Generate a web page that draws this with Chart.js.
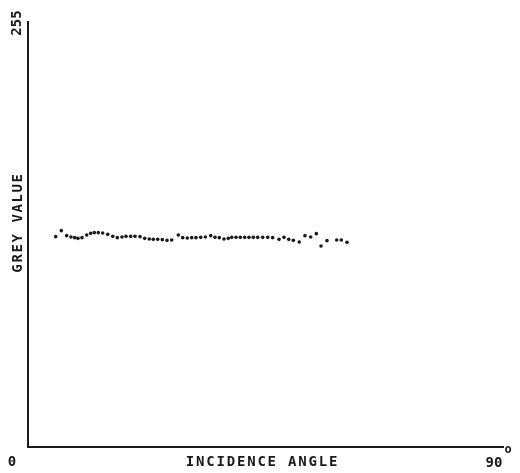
<!DOCTYPE html>
<html>
<head>
<meta charset="utf-8">
<script src="https://cdn.jsdelivr.net/npm/chart.js@4.4.1/dist/chart.umd.min.js"></script>
<style>
  html, body { margin: 0; padding: 0; background: #fff; }
  #wrap { width: 520px; height: 473px; }
</style>
</head>
<body>
<div id="wrap"><canvas id="chart"></canvas></div>
<script>
// incidence angle (degrees) and grey value
var angles = [5.25, 6.31, 7.33, 8.15, 8.85, 9.47, 10.23, 11.12, 11.88, 12.56,
  13.32, 14.15, 15.10, 16.05, 16.92, 17.81, 18.57, 19.46, 20.27, 21.22,
  22.11, 22.98, 23.74, 24.57, 25.45, 26.34, 27.23, 28.48, 29.31, 30.18,
  31.02, 31.83, 32.72, 33.6, 34.62, 35.43, 36.25, 37.14, 37.95, 38.60,
  39.41, 40.22, 41.06, 41.87, 42.69, 43.52, 44.47, 45.42, 46.36, 47.56,
  48.51, 49.40, 50.27, 51.40, 52.48, 53.56, 54.63, 55.52, 56.65, 58.49,
  59.36, 60.44];
var greyValues = [126.2, 129.8, 126.8, 126.0, 125.6, 125.2, 125.6, 127.2, 128.2, 128.6,
  128.6, 128.4, 127.6, 126.4, 125.6, 126.0, 126.4, 126.4, 126.4, 126.2,
  125.2, 124.8, 124.6, 124.6, 124.4, 124.0, 124.2, 127.2, 125.6, 125.4,
  125.6, 125.6, 125.8, 126.0, 126.8, 125.8, 125.6, 124.8, 125.2, 125.8,
  125.8, 125.8, 125.8, 125.8, 125.8, 125.8, 125.8, 125.8, 125.6, 124.6,
  125.8, 124.6, 124.0, 123.0, 126.8, 126.0, 128.0, 120.6, 123.8, 124.2,
  124.2, 122.8];
var xRange = [0, 90];
var yRange = [0, 255];
var xTitle = "INCIDENCE ANGLE";
var yTitle = "GREY VALUE";

var points = angles.map(function (a, i) { return { x: a, y: greyValues[i] }; });

var labelFont = "bold 14px 'DejaVu Sans Mono', monospace";

var axisLabels = {
  id: 'axisLabels',
  afterDraw: function (chart) {
    var ctx = chart.ctx;
    var xs = chart.scales.x, ys = chart.scales.y;
    var x0 = xs.getPixelForValue(xRange[0]);
    var x1 = xs.getPixelForValue(xRange[1]);
    var y0 = ys.getPixelForValue(yRange[0]);
    var y1 = ys.getPixelForValue(yRange[1]);
    ctx.save();
    ctx.fillStyle = '#1a1a1a';
    ctx.font = labelFont;
    ctx.textAlign = 'center';
    ctx.textBaseline = 'middle';

    // bottom labels
    ctx.fillText(String(xRange[0]), x0 - 16, y0 + 15);
    ctx.letterSpacing = '1.8px';
    ctx.fillText(xTitle, (x0 + x1) / 2 - 3, y0 + 15);
    ctx.letterSpacing = '0px';
    ctx.fillText(String(xRange[1]), x1 - 9, y0 + 16);
    ctx.font = "bold 12px 'DejaVu Sans Mono', monospace";
    ctx.fillText('o', x1 + 5, y0 + 3);

    // left labels, rotated
    ctx.font = labelFont;
    ctx.save();
    ctx.translate(x0 - 11, y1 + 1);
    ctx.rotate(-Math.PI / 2);
    ctx.fillText(String(yRange[1]), 0, 0);
    ctx.restore();

    ctx.save();
    ctx.translate(x0 - 10, (y0 + y1) / 2 - 12);
    ctx.rotate(-Math.PI / 2);
    ctx.letterSpacing = '1.6px';
    ctx.fillText(yTitle, 0, 0);
    ctx.restore();

    ctx.restore();
  }
};

new Chart(document.getElementById('chart'), {
  type: 'scatter',
  data: {
    datasets: [{
      data: points,
      backgroundColor: '#1a1a1a',
      borderColor: '#1a1a1a',
      pointRadius: 1.8,
      pointBorderWidth: 0
    }]
  },
  options: {
    responsive: true,
    maintainAspectRatio: false,
    animation: false,
    layout: { padding: { left: 28, right: 17, top: 22, bottom: 26 } },
    plugins: {
      legend: { display: false },
      tooltip: { enabled: false }
    },
    scales: {
      x: {
        type: 'linear',
        min: xRange[0], max: xRange[1],
        grid: { display: false, drawTicks: false },
        ticks: { display: false },
        border: { display: true, color: '#1a1a1a', width: 2 }
      },
      y: {
        type: 'linear',
        min: yRange[0], max: yRange[1],
        grid: { display: false, drawTicks: false },
        ticks: { display: false },
        border: { display: true, color: '#1a1a1a', width: 2 }
      }
    }
  },
  plugins: [axisLabels]
});
</script>
</body>
</html>
